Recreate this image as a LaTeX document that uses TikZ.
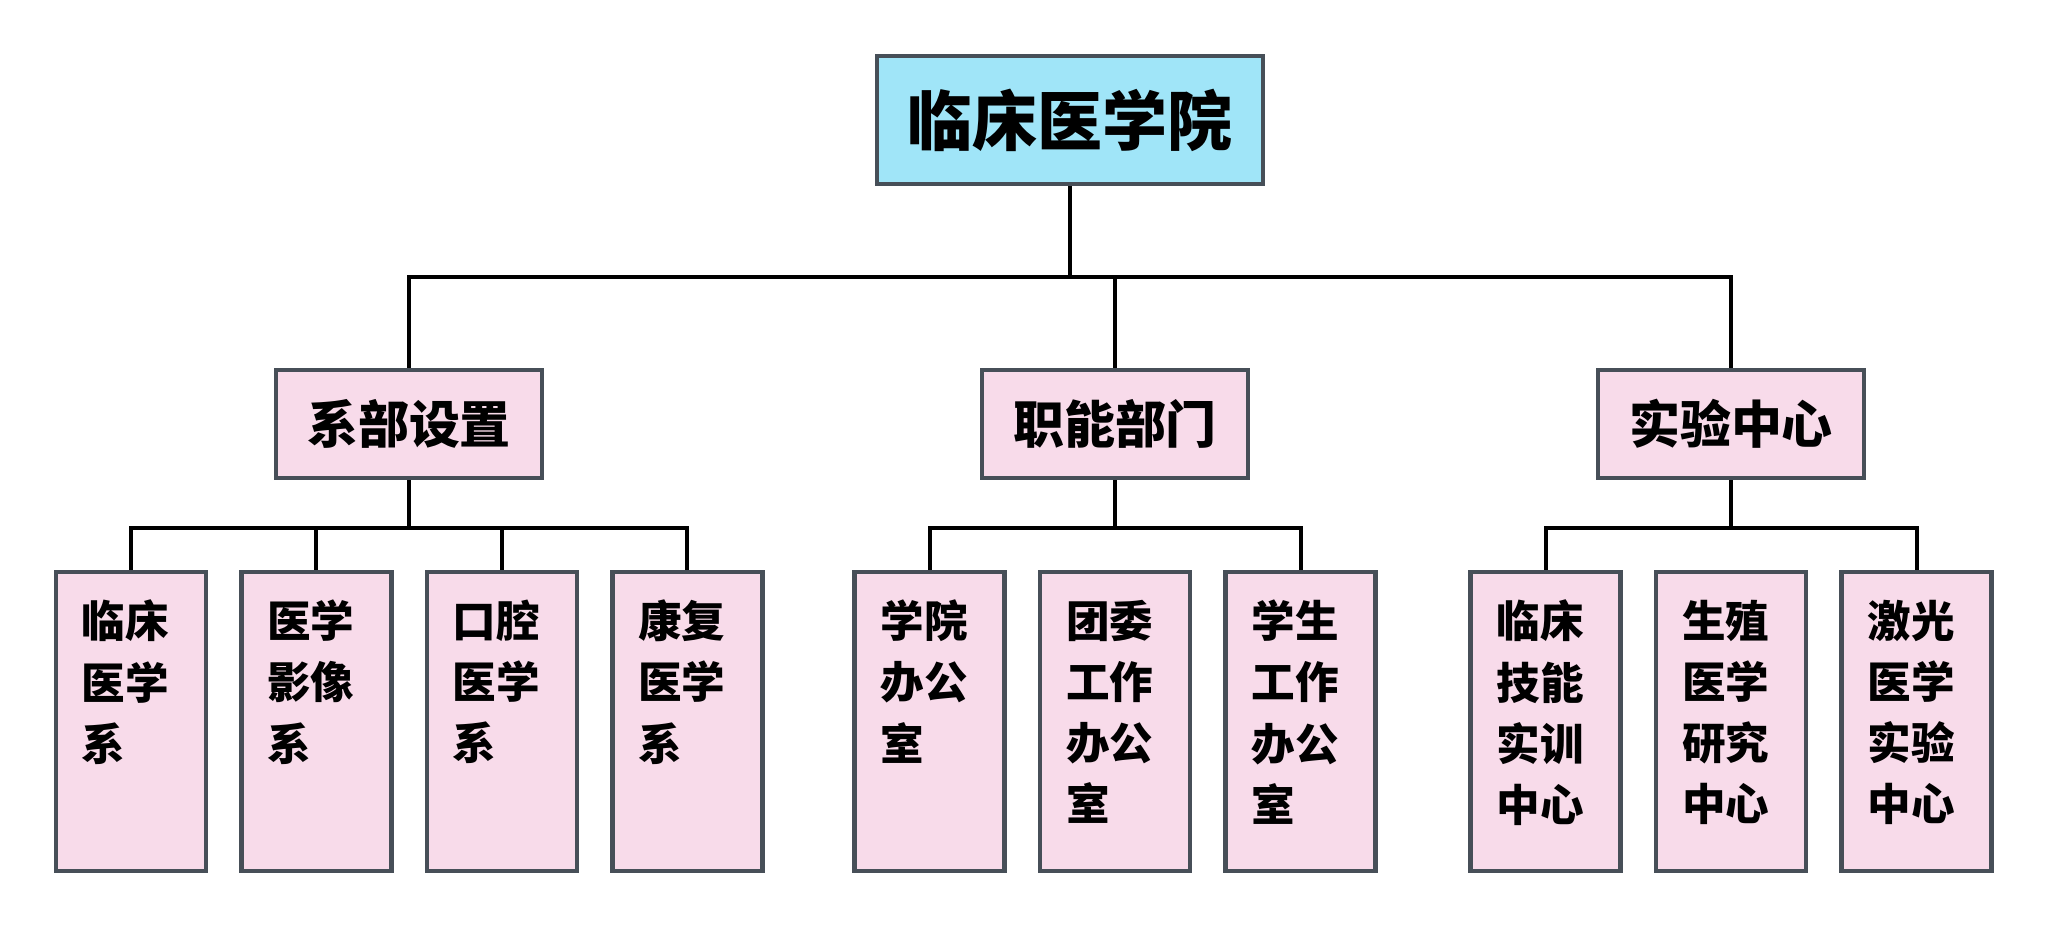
\documentclass[tikz,border=0pt]{standalone}
\usepackage{fontspec}
\newfontfamily\cjk{Noto Sans CJK SC}
\usepackage{tikz}
\usetikzlibrary{positioning}
\usetikzlibrary{calc}
\definecolor{rootfill}{HTML}{A0E5F8}
\definecolor{boxfill}{HTML}{F8DBEA}
\definecolor{boxedge}{HTML}{474F58}
\tikzset{
  rootbox/.style={draw=boxedge,fill=rootfill,line width=0.45mm,minimum width=38.6mm,minimum height=12.8mm,inner sep=0pt,font=\cjk\bfseries\fontsize{18.5pt}{22pt}\selectfont},
  groupbox/.style={draw=boxedge,fill=boxfill,line width=0.45mm,minimum width=26.6mm,minimum height=10.8mm,inner sep=0pt,font=\cjk\bfseries\fontsize{14.5pt}{17pt}\selectfont},
  leafbox/.style={draw=boxedge,fill=boxfill,line width=0.45mm,minimum width=15mm,minimum height=29.9mm,inner sep=0pt,font=\cjk\bfseries\fontsize{12.4pt}{17.4pt}\selectfont},
  conn/.style={line width=0.4mm}
}
\newcommand{\leaf}[1]{\parbox[c][29.9mm][t]{9.8mm}{\vspace*{2.8mm}\raggedright #1}}

\begin{document}
\begin{tikzpicture}[x=1mm,y=1mm]

    \fill[white] (0,0) rectangle (204.8,-92.9);
    \useasboundingbox (0,0) rectangle (204.8,-92.9);

    \coordinate (bus) at (0,-27.7);

    % top
    \node[rootbox] (root) at (107.0,-12.0) {临床医学院};

    % middle row
    \node[groupbox] (dep) at (40.9,-42.4) {系部设置};
    \node[groupbox] (off) at (111.5,-42.4) {职能部门};
    \node[groupbox] (lab) at (173.1,-42.4) {实验中心};

    \draw[conn] (root.south) -- (root.south |- bus);
    \draw[conn] (dep.north) -- (dep.north |- bus) -- (lab.north |- bus) -- (lab.north);
    \draw[conn] (off.north) -- (off.north |- bus);

    % left
    \node[leafbox] (d1) at (13.08,-72.15) {\leaf{临床\\医学\\系}};
    \node[leafbox] (d2) at (31.63,-72.15) {\leaf{医学\\影像\\系}};
    \node[leafbox] (d3) at (50.18,-72.15) {\leaf{口腔\\医学\\系}};
    \node[leafbox] (d4) at (68.73,-72.15) {\leaf{康复\\医学\\系}};
    \coordinate (dbus) at ($(dep.south)+(0,-4.8)$);
    \draw[conn] (dep.south) -- (dbus);
    \draw[conn] (d1.north) -- (d1.north |- dbus) -- (d4.north |- dbus) -- (d4.north);
    \draw[conn] (d2.north) -- (d2.north |- dbus);
    \draw[conn] (d3.north) -- (d3.north |- dbus);

    % middle
    \node[leafbox] (o1) at (92.95,-72.15) {\leaf{学院\\办公\\室}};
    \node[leafbox] (o2) at (111.5,-72.15) {\leaf{团委\\工作\\办公\\室}};
    \node[leafbox] (o3) at (130.05,-72.15) {\leaf{学生\\工作\\办公\\室}};
    \coordinate (obus) at ($(off.south)+(0,-4.8)$);
    \draw[conn] (off.south) -- (obus);
    \draw[conn] (o1.north) -- (o1.north |- obus) -- (o3.north |- obus) -- (o3.north);

    % right
    \node[leafbox] (l1) at (154.55,-72.15) {\leaf{临床\\技能\\实训\\中心}};
    \node[leafbox] (l2) at (173.1,-72.15) {\leaf{生殖\\医学\\研究\\中心}};
    \node[leafbox] (l3) at (191.65,-72.15) {\leaf{激光\\医学\\实验\\中心}};
    \coordinate (lbus) at ($(lab.south)+(0,-4.8)$);
    \draw[conn] (lab.south) -- (lbus);
    \draw[conn] (l1.north) -- (l1.north |- lbus) -- (l3.north |- lbus) -- (l3.north);

\end{tikzpicture}
\end{document}
